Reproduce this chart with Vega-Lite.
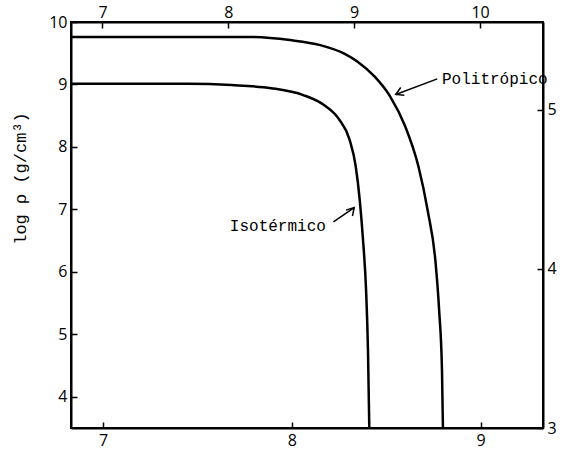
{
  "$schema": "https://vega.github.io/schema/vega-lite/v6.json",
  "width": 472,
  "height": 406,
  "autosize": "none",
  "padding": {"left": 71, "top": 22, "right": 21, "bottom": 25},
  "background": "white",
  "config": {
    "view": {"stroke": "black", "strokeWidth": 2},
    "axis": {
      "grid": false,
      "domain": true,
      "domainColor": "black",
      "domainWidth": 2,
      "tickColor": "black",
      "tickWidth": 1.5,
      "tickSize": -6,
      "format": "d",
      "labelFont": "Open Sans",
      "labelFontSize": 16,
      "labelColor": "black",
      "labelPadding": 10,
      "titleFont": "Liberation Mono",
      "titleFontSize": 17,
      "titleFontWeight": "normal",
      "titleColor": "black"
    }
  },
  "datasets": {
    "curves": [
      {"model": "Politrópico", "logr": 6.83, "logrho": 9.76},
      {"model": "Politrópico", "logr": 7.78, "logrho": 9.76},
      {"model": "Politrópico", "logr": 7.99, "logrho": 9.71},
      {"model": "Politrópico", "logr": 8.15, "logrho": 9.63},
      {"model": "Politrópico", "logr": 8.28, "logrho": 9.49},
      {"model": "Politrópico", "logr": 8.35, "logrho": 9.36},
      {"model": "Politrópico", "logr": 8.44, "logrho": 9.12},
      {"model": "Politrópico", "logr": 8.52, "logrho": 8.81},
      {"model": "Politrópico", "logr": 8.60, "logrho": 8.33},
      {"model": "Politrópico", "logr": 8.67, "logrho": 7.69},
      {"model": "Politrópico", "logr": 8.72, "logrho": 6.97},
      {"model": "Politrópico", "logr": 8.76, "logrho": 6.18},
      {"model": "Politrópico", "logr": 8.78, "logrho": 5.38},
      {"model": "Politrópico", "logr": 8.795, "logrho": 4.42},
      {"model": "Politrópico", "logr": 8.80, "logrho": 3.5},
      {"model": "Isotérmico", "logr": 6.83, "logrho": 9.01},
      {"model": "Isotérmico", "logr": 7.45, "logrho": 9.01},
      {"model": "Isotérmico", "logr": 7.68, "logrho": 8.99},
      {"model": "Isotérmico", "logr": 7.89, "logrho": 8.94},
      {"model": "Isotérmico", "logr": 8.06, "logrho": 8.83},
      {"model": "Isotérmico", "logr": 8.17, "logrho": 8.67},
      {"model": "Isotérmico", "logr": 8.25, "logrho": 8.44},
      {"model": "Isotérmico", "logr": 8.305, "logrho": 8.12},
      {"model": "Isotérmico", "logr": 8.338, "logrho": 7.69},
      {"model": "Isotérmico", "logr": 8.36, "logrho": 7.13},
      {"model": "Isotérmico", "logr": 8.377, "logrho": 6.5},
      {"model": "Isotérmico", "logr": 8.393, "logrho": 5.7},
      {"model": "Isotérmico", "logr": 8.403, "logrho": 4.74},
      {"model": "Isotérmico", "logr": 8.41, "logrho": 3.5}
    ],
    "notes": [
      {"model": "Politrópico", "label": "Politrópico", "tx": 8.795, "ty": 9.09, "ax": 8.77, "ay": 9.09, "bx": 8.55, "by": 8.84, "align": "left"},
      {"model": "Isotérmico", "label": "Isotérmico", "tx": 8.18, "ty": 6.73, "ax": 8.22, "ay": 6.8, "bx": 8.33, "by": 7.03, "align": "right"}
    ],
    "frame": [
      {"top": 6.75, "right": 3},
      {"top": 10.5, "right": 5.55}
    ]
  },
  "layer": [
    {
      "layer": [
        {
          "data": {"name": "curves"},
          "mark": {"type": "line", "color": "black", "strokeWidth": 2.5, "interpolate": "monotone"},
          "encoding": {
            "x": {"field": "logr", "type": "quantitative",
                  "scale": {"domain": [6.83, 9.33], "nice": false, "zero": false},
                  "axis": {"orient": "bottom", "values": [7, 8, 9], "title": null}},
            "y": {"field": "logrho", "type": "quantitative",
                  "scale": {"domain": [3.5, 10], "nice": false, "zero": false},
                  "axis": {"orient": "left", "values": [4, 5, 6, 7, 8, 9, 10], "title": "log ρ (g/cm³)", "titleX": -42, "titleY": 156, "titleAngle": -90}},
            "detail": {"field": "model"}
          }
        },
        {
          "data": {"name": "notes"},
          "mark": {"type": "rule", "color": "black", "strokeWidth": 1.5},
          "encoding": {
            "x": {"field": "ax", "type": "quantitative"},
            "y": {"field": "ay", "type": "quantitative"},
            "x2": {"field": "bx"},
            "y2": {"field": "by"}
          }
        },
        {
          "data": {"name": "notes"},
          "mark": {"type": "point", "filled": false, "color": "black", "strokeWidth": 1.5, "size": 300, "opacity": 1},
          "encoding": {
            "x": {"field": "bx", "type": "quantitative"},
            "y": {"field": "by", "type": "quantitative"},
            "shape": {"field": "model", "type": "nominal", "legend": null,
                      "scale": {"domain": ["Politrópico", "Isotérmico"], "range": ["M0.99,0.10L0,0L0.58,-0.81", "M-0.95,0.3L0,0L-0.2,0.98"]}}
          }
        },
        {
          "data": {"name": "notes"},
          "transform": [{"filter": "datum.align == 'left'"}],
          "mark": {"type": "text", "font": "Liberation Mono", "fontSize": 16, "align": "left", "baseline": "middle", "color": "black"},
          "encoding": {
            "x": {"field": "tx", "type": "quantitative"},
            "y": {"field": "ty", "type": "quantitative"},
            "text": {"field": "label"}
          }
        },
        {
          "data": {"name": "notes"},
          "transform": [{"filter": "datum.align == 'right'"}],
          "mark": {"type": "text", "font": "Liberation Mono", "fontSize": 16, "align": "right", "baseline": "middle", "color": "black"},
          "encoding": {
            "x": {"field": "tx", "type": "quantitative"},
            "y": {"field": "ty", "type": "quantitative"},
            "text": {"field": "label"}
          }
        }
      ]
    },
    {
      "data": {"name": "frame"},
      "mark": {"type": "point", "opacity": 0},
      "encoding": {
        "x": {"field": "top", "type": "quantitative",
              "scale": {"domain": [6.75, 10.5], "nice": false, "zero": false},
              "axis": {"orient": "top", "values": [7, 8, 9, 10], "title": null, "labelPadding": 8}},
        "y": {"field": "right", "type": "quantitative",
              "scale": {"domain": [3, 5.55], "nice": false, "zero": false},
              "axis": {"orient": "right", "values": [3, 4, 5], "title": null}}
      }
    }
  ],
  "resolve": {
    "scale": {"x": "independent", "y": "independent", "shape": "independent"},
    "axis": {"x": "independent", "y": "independent"}
  }
}
